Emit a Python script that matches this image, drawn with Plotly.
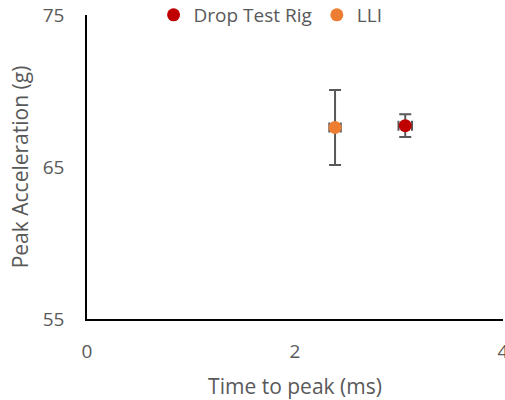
import plotly.graph_objects as go

series_names = ["Drop Test Rig", "LLI"]
series_colors = ["#C00000", "#ED7D31"]
time_to_peak = [3.06, 2.385]
time_err = [0.065, 0.055]
peak_accel = [67.72, 67.6]
accel_err = [0.75, 2.47]

x_ticks = [0, 2, 4]
y_ticks = [55, 65, 75]

FONT = "Open Sans"
GRAY = "#595959"

fig = go.Figure()
for i, name in enumerate(series_names):
    fig.add_trace(go.Scatter(
        x=[time_to_peak[i]], y=[peak_accel[i]], mode="markers", name=name,
        marker=dict(color=series_colors[i], size=13),
        error_y=dict(type="data", array=[accel_err[i]], color=GRAY, thickness=2, width=6),
        error_x=dict(type="data", array=[time_err[i]], color=GRAY, thickness=2, width=5),
    ))

fig.update_layout(
    width=505, height=400,
    margin=dict(l=87, r=2, t=15, b=81, autoexpand=False),
    paper_bgcolor="white", plot_bgcolor="white",
    font=dict(family=FONT, color=GRAY, size=19),
    showlegend=True,
    legend=dict(orientation="h", x=0.16, xanchor="left", y=1.0, yanchor="middle",
                yref="paper", font=dict(size=19, color=GRAY), itemwidth=30,
                bgcolor="rgba(0,0,0,0)", traceorder="normal"),
    xaxis=dict(range=[0, 4], tickvals=x_ticks, showgrid=False, zeroline=False,
               showline=True, linecolor="black", linewidth=1.5, ticks="",
               ticklabelstandoff=14, automargin=False, ticklabeloverflow="allow",
               tickfont=dict(size=19, color=GRAY),
               title=dict(text="Time to peak (ms)", standoff=22, font=dict(size=21, color=GRAY))),
    yaxis=dict(range=[55, 75], tickvals=y_ticks, showgrid=False, zeroline=False,
               showline=True, linecolor="black", linewidth=1.5, ticks="",
               ticklabelstandoff=17, automargin=False, ticklabeloverflow="allow",
               tickfont=dict(size=19, color=GRAY),
               title=dict(text="Peak Acceleration (g)", standoff=8, font=dict(size=21, color=GRAY))),
)

fig.write_html(
    "out.html",
    config={"displayModeBar": False},
    post_script="document.body.style.margin='0';document.body.style.overflow='hidden';",
)
